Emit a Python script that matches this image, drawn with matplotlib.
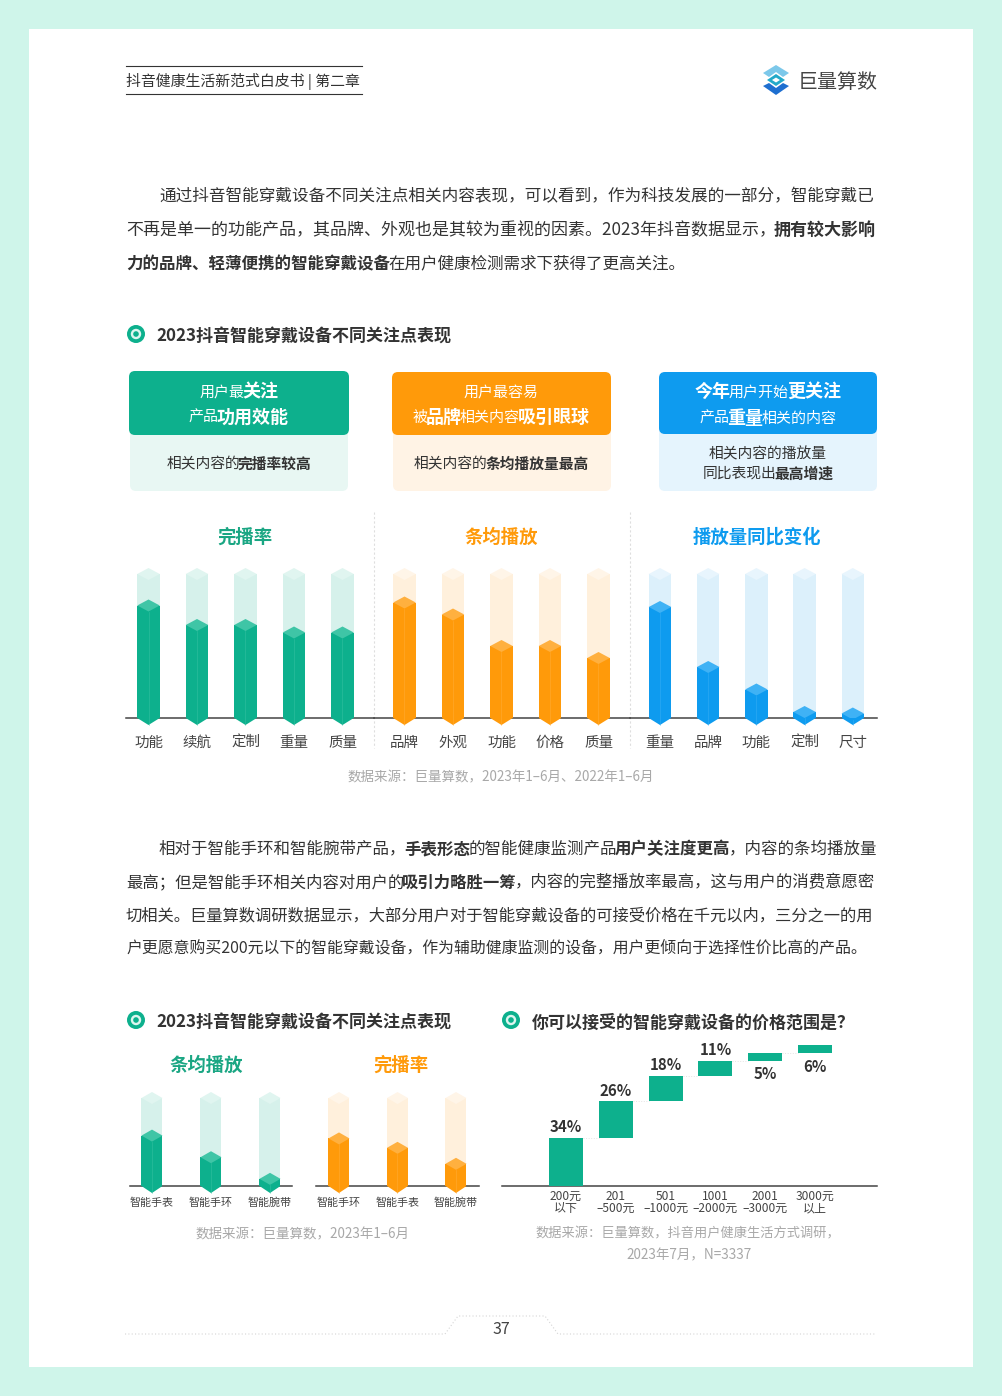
import matplotlib
matplotlib.use('Agg')
import matplotlib.pyplot as plt
from matplotlib.patches import Polygon, Rectangle, Circle, FancyBboxPatch

plt.rcParams['font.family'] = ['Noto Sans CJK SC', 'DejaVu Sans']

W, H = 1003, 1396

# chart data
focus_labels = ['功能', '续航', '定制', '重量', '质量']
focus_values = [79, 66, 66, 61, 61]
play_labels = ['品牌', '外观', '功能', '价格', '质量']
play_values = [81, 73, 52, 52, 44]
growth_labels = ['重量', '品牌', '功能', '定制', '尺寸']
growth_values = [78, 38, 23, 8, 7]
avg_labels = ['智能手表', '智能手环', '智能腕带']
avg_values = [60, 37, 14]
finish_labels = ['智能手环', '智能手表', '智能腕带']
finish_values = [57, 47, 30]
price_labels = ['200元\n以下', '201\n–500元', '501\n–1000元', '1001\n–2000元', '2001\n–3000元', '3000元\n以上']
price_values = [34, 26, 18, 11, 5, 6]

# body text, (text, bold)
para1 = [
    [('通过抖音智能穿戴设备不同关注点相关内容表现，可以看到，作为科技发展的一部分，智能穿戴已', False)],
    [('不再是单一的功能产品，其品牌、外观也是其较为重视的因素。2023年抖音数据显示，', False), ('拥有较大影响', True)],
    [('力的品牌、轻薄便携的智能穿戴设备', True), ('在用户健康检测需求下获得了更高关注。', False)],
]
para2 = [
    [('相对于智能手环和智能腕带产品，', False), ('手表形态', True), ('的智能健康监测产品', False), ('用户关注度更高', True), ('，内容的条均播放量', False)],
    [('最高；但是智能手环相关内容对用户的', False), ('吸引力略胜一筹', True), ('，内容的完整播放率最高，这与用户的消费意愿密', False)],
    [('切相关。巨量算数调研数据显示，大部分用户对于智能穿戴设备的可接受价格在千元以内，三分之一的用', False)],
    [('户更愿意购买200元以下的智能穿戴设备，作为辅助健康监测的设备，用户更倾向于选择性价比高的产品。', False)],
]

TEAL = '#0DB08D'
TEAL_CAP = '#3FC5A6'
TEAL_GHOST = '#D6F1EB'
ORANGE = '#FF9A0A'
ORANGE_CAP = '#FFB03F'
ORANGE_GHOST = '#FFF0DC'
BLUE = '#0E9BEF'
BLUE_CAP = '#3FB2F5'
BLUE_GHOST = '#DCF0FB'
DARK = '#333333'
GREY = '#A8A8A8'

fig = plt.figure(figsize=(W / 100, H / 100), dpi=100, facecolor='#CFF5EA')
page = fig.add_axes([0, 0, 1, 1])
page.set_xlim(0, W)
page.set_ylim(H, 0)
page.axis('off')
renderer = fig.canvas.get_renderer()


def px(size):
    return size * 0.72


def runs(x, y, parts, size, color=DARK, right=None, center=None, bold_size=None):
    # one line made of regular and bold pieces, fitted to a right edge or centred
    bold_size = bold_size or size
    y = y + 2
    scale = 1.0
    for i in range(2):
        items = []
        total = 0
        for n, (text, bold) in enumerate(parts):
            fs = px(bold_size if bold else size) * scale
            t = page.text(0, y, text, fontsize=fs, color=color, va='center', ha='left',
                          weight='bold' if bold else 'normal')
            w = t.get_window_extent(renderer).width
            if n < len(parts) - 1:
                w -= 2
            items.append((t, w))
            total += w
        if i == 0 and right is not None:
            scale = (right - x) / total
            for t, w in items:
                t.remove()
        else:
            break
    if center is not None:
        x = center - total / 2
    for t, w in items:
        t.set_x(x)
        x += w


def card(x0, x1, y0, y1, color, radius=6):
    page.add_patch(FancyBboxPatch((x0 + radius, y0 + radius), x1 - x0 - 2 * radius, y1 - y0 - 2 * radius,
                                  boxstyle='round,pad=%d,rounding_size=%d' % (radius, radius),
                                  fc=color, ec='none'))


def heading(x, y, text, tx):
    page.add_patch(Circle((x, y), 9, fc=TEAL, ec='none'))
    page.add_patch(Circle((x, y), 5.2, fc='#DDF5EF', ec='none'))
    page.add_patch(Circle((x, y), 2.8, fc=TEAL, ec='none'))
    page.text(tx, y + 2.5, text, fontsize=px(17), weight='bold', color=DARK, va='center')


def chart_axes(left, right, top, bottom):
    ax = fig.add_axes([left / W, 1 - bottom / H, (right - left) / W, (bottom - top) / H])
    ax.patch.set_alpha(0)
    for side in ['top', 'left', 'right']:
        ax.spines[side].set_visible(False)
    ax.spines['bottom'].set_color('#444444')
    ax.spines['bottom'].set_linewidth(1.1)
    return ax


def prism_chart(left, right, top, bottom, first, step, width, labels, values,
                color, cap, ghost, ghost_cap, label_size, pad):
    ax = chart_axes(left, right, top, bottom)
    ax.set_xlim((left - first) / step, (right - first) / step)
    ax.set_ylim(0, 100)
    hw = width / step / 2
    dv = 6.0 / (bottom - top) * 100
    tip = 7.0 / (bottom - top) * 100
    for i, v in enumerate(values):
        for val, body, top_col, z in [(100, ghost, ghost_cap, 3), (v, color, cap, 4)]:
            ax.bar(i, val - dv, width=2 * hw, color=body, zorder=z)
            ax.add_patch(Polygon([(i - hw, val - dv), (i, val), (i + hw, val - dv), (i, val - 2 * dv)],
                                 fc=top_col, ec='none', zorder=z, clip_on=False))
        ax.add_patch(Polygon([(i - hw, 0), (i + hw, 0), (i, -tip)], fc=color, ec='none', zorder=4, clip_on=False))
        ax.plot([i, i], [-tip, v - 2 * dv], color=cap, lw=0.5, alpha=0.6, zorder=5, clip_on=False)
    ax.set_xticks(range(len(labels)))
    ax.set_xticklabels(labels, fontsize=px(label_size), color='#444444')
    ax.set_yticks([])
    ax.tick_params(axis='x', length=0, pad=pad)
    return ax


# page background
page.add_patch(Rectangle((29, 29), 944, 1338, fc='white', ec='none'))

# header
page.plot([126, 362], [66, 66], color='#333333', lw=0.8)
page.plot([126, 362], [94, 94], color='#333333', lw=0.8)
runs(126, 79, [('抖音健康生活新范式白皮书 | 第二章', False)], 15, color='#333333', right=360)
page.add_patch(Polygon([(776, 65), (789, 73), (783, 77), (776, 72), (769, 77), (763, 73)], fc='#7CC8EA', ec='none'))
page.add_patch(Polygon([(763, 86), (769, 83), (776, 88), (783, 83), (789, 86), (776, 95)], fc='#1E6FD0', ec='none'))
page.add_patch(Polygon([(776, 74), (785, 80), (776, 86), (767, 80)], fc='#22A9C9', ec='none'))
page.add_patch(Polygon([(776, 77.5), (780, 80), (776, 82.5), (772, 80)], fc='white', ec='none'))
page.text(838, 82, '巨量算数', fontsize=px(20), color='#444444', ha='center', va='center')

# paragraphs
rights1 = [876, 877, None]
for line, y, x, r in zip(para1, [195, 228, 262], [159, 126, 126], rights1):
    runs(x, y, line, 16.6, right=r or 688)
rights2 = [877, 876, 877, 869]
for line, y, x, r in zip(para2, [847, 881, 914, 947], [159, 126, 126, 126], rights2):
    runs(x, y, line, 16.6, right=r)

heading(136, 334, '2023抖音智能穿戴设备不同关注点表现', 156)

# three cards
card(130, 348, 425, 491, '#E8F7F3')
card(129, 349, 371, 435, TEAL)
card(393, 611, 425, 491, '#FFF3E5')
card(392, 611, 372, 435, ORANGE)
card(659, 877, 425, 491, '#E5F4FD')
card(659, 877, 372, 434, BLUE)
runs(0, 390, [('用户最', False), ('关注', True)], 15, color='white', center=239, bold_size=18)
runs(0, 416, [('产品', False), ('功用效能', True)], 15, color='white', center=239, bold_size=18)
runs(0, 391, [('用户最容易', False)], 15, color='white', center=501)
runs(0, 416, [('被', False), ('品牌', True), ('相关内容', False), ('吸引眼球', True)], 15, color='white', center=501, bold_size=18)
runs(0, 390, [('今年', True), ('用户开始', False), ('更关注', True)], 15, color='white', center=768, bold_size=18)
runs(0, 417, [('产品', False), ('重量', True), ('相关的内容', False)], 15, color='white', center=768, bold_size=18)
runs(0, 462, [('相关内容的', False), ('完播率较高', True)], 14.8, center=239)
runs(0, 462, [('相关内容的', False), ('条均播放量最高', True)], 14.8, center=501)
runs(0, 452, [('相关内容的播放量', False)], 14.8, center=768)
runs(0, 472, [('同比表现出', False), ('最高增速', True)], 14.8, center=768)

# first row of charts
page.text(245, 537, '完播率', fontsize=px(18.4), weight='bold', color='#1AA683', ha='center', va='center')
page.text(501, 537, '条均播放', fontsize=px(18.4), weight='bold', color=ORANGE, ha='center', va='center')
page.text(757, 537, '播放量同比变化', fontsize=px(18.4), weight='bold', color=BLUE, ha='center', va='center')
page.plot([374, 374], [512, 748], color='#DEDEDE', lw=0.8, ls=(0, (2, 2)))
page.plot([630, 630], [512, 748], color='#DEDEDE', lw=0.8, ls=(0, (2, 2)))

prism_chart(126, 374, 568, 718, 148.5, 48.5, 22.5, focus_labels, focus_values,
            TEAL, TEAL_CAP, TEAL_GHOST, '#E0F5F0', 14.5, 13)
prism_chart(374, 630, 568, 718, 404.5, 48.5, 22.5, play_labels, play_values,
            ORANGE, ORANGE_CAP, ORANGE_GHOST, '#FFF5E8', 14.5, 13)
prism_chart(630, 877, 568, 718, 660, 48.2, 22.5, growth_labels, growth_values,
            BLUE, BLUE_CAP, BLUE_GHOST, '#E8F5FD', 14.5, 13)

page.text(501, 777, '数据来源：巨量算数，2023年1–6月、2022年1–6月', fontsize=px(13.5), color=GREY, ha='center', va='center')

# second row
heading(136, 1020, '2023抖音智能穿戴设备不同关注点表现', 156)
heading(511, 1020, '你可以接受的智能穿戴设备的价格范围是？', 532)
page.text(206, 1065, '条均播放', fontsize=px(18.4), weight='bold', color='#1AA683', ha='center', va='center')
page.text(401, 1065, '完播率', fontsize=px(18.4), weight='bold', color=ORANGE, ha='center', va='center')

prism_chart(130, 292, 1092, 1186, 152, 59, 21, avg_labels, avg_values,
            TEAL, TEAL_CAP, TEAL_GHOST, '#E0F5F0', 11, 8)
prism_chart(316, 479, 1092, 1186, 339, 58.5, 21, finish_labels, finish_values,
            ORANGE, ORANGE_CAP, ORANGE_GHOST, '#FFF5E8', 11, 8)

page.text(303, 1234, '数据来源：巨量算数，2023年1–6月', fontsize=px(13.5), color=GREY, ha='center', va='center')

# price waterfall
ax = chart_axes(502, 877, 1045, 1186)
ax.set_xlim((502 - 566) / 49.8, (877 - 566) / 49.8)
ax.set_ylim(0, 100)
bottoms = [sum(price_values[:i]) for i in range(len(price_values))]
ax.bar(range(len(price_values)), price_values, bottom=bottoms, width=34 / 49.8, color=TEAL, zorder=3)
for i, v in enumerate(price_values):
    b = bottoms[i]
    if i < 5:
        ax.plot([i + 0.34, i + 0.66], [b + v, b + v], color='#E4E4E4', lw=0.7, ls=':')
    below = v in (5, 6)
    ax.annotate('%d%%' % v, (i, b if below else b + v), xytext=(0, -4 if below else 2), textcoords='offset points',
                ha='center', va='top' if below else 'bottom', fontsize=px(15), weight='bold', color=DARK,
                annotation_clip=False)
ax.set_xticks(range(len(price_labels)))
ax.set_xticklabels(price_labels, fontsize=px(12), color='#444444', linespacing=0.9)
ax.set_yticks([])
ax.tick_params(axis='x', length=0, pad=3)

page.text(688, 1234, '数据来源：巨量算数，抖音用户健康生活方式调研，', fontsize=px(13.2), color=GREY, ha='center', va='center')
page.text(689, 1255, '2023年7月，N=3337', fontsize=px(13.5), color=GREY, ha='center', va='center')

# footer
page.plot([125, 445, 458, 545, 558, 875], [1334, 1334, 1316, 1316, 1334, 1334], color='#D5D5D5', lw=0.8, ls=(0, (1, 2)))
page.text(501, 1330, '37', fontsize=px(16), color='#444444', ha='center', va='center')

fig.savefig('out.png', dpi=100, facecolor=fig.get_facecolor())
